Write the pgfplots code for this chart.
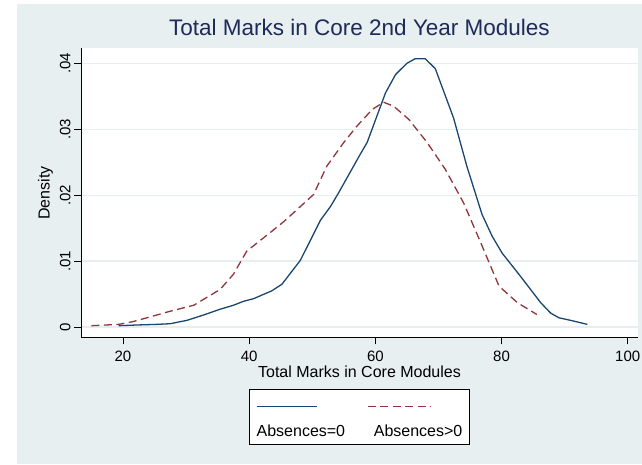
\documentclass[border=0pt]{standalone}
\usepackage{pgfplots}
\pgfplotsset{compat=1.18}
\usepackage{fontspec}
\setmainfont{Liberation Sans}
\definecolor{bgc}{RGB}{232,239,241}
\definecolor{gridc}{RGB}{230,238,240}
\definecolor{titlec}{RGB}{30,42,88}
\definecolor{navyc}{RGB}{26,71,111}
\definecolor{maroonc}{RGB}{144,53,59}
\pgfplotsset{redleg/.style={legend image code/.code={\draw[##1, overlay] (-6pt,10pt) -- (57pt,10pt);}}}
\begin{document}
\begin{tikzpicture}
\useasboundingbox (0,0) rectangle (642pt,464pt);
\fill[bgc] (17pt,0pt) rectangle (642pt,460pt);
\begin{axis}[
  at={(81pt,126.7pt)}, anchor=south west,
  scale only axis, width=557pt, height=288.8pt,
  xmin=13.343, xmax=101.63, ymin=-0.00156, ymax=0.04225,
  axis background/.style={fill=white},
  axis lines=left, axis line style={-, black, line width=0.9pt},
  tick align=outside, major tick length=7pt,
  tick style={black, line width=0.8pt},
  xtick={20,40,60,80,100},
  ytick={0,0.01,0.02,0.03,0.04},
  yticklabels={0,.01,.02,.03,.04},
  scaled y ticks=false,
  /pgf/number format/assume math mode=true,
  ticklabel style={font=\fontsize{15}{18}\selectfont},
  xticklabel style={yshift=-3pt},
  yticklabel style={rotate=90, anchor=south},
  ymajorgrids, grid style={gridc, line width=1.3pt},
  xlabel={Total Marks in Core Modules},
  ylabel={Density},
  label style={font=\fontsize{16}{19}\selectfont},
  xlabel style={yshift=2pt},
  title={Total Marks in Core 2nd Year Modules},
  title style={at={(0.5,1)}, anchor=base, yshift=7pt, text=titlec, font=\fontsize{22.5}{27}\selectfont},
  legend columns=2,
  legend image code/.code={\draw[#1, overlay] (0pt,10pt) -- (60pt,10pt);},
  legend style={at={(0.5,-0.1792)}, anchor=north, draw=black, line width=0.9pt, fill=white,
    inner xsep=7pt, inner ysep=0pt,
    font=\fontsize{16}{19}\selectfont,
    nodes={inner sep=0pt, text depth=8pt},
    /tikz/every even column/.append style={column sep=28.7pt}},
]
\addplot[navyc, line width=1.3pt] coordinates {
(19.3,0.0002) (22,0.0003) (25.3,0.0004) (27.5,0.0005) (29,0.0008) (30.1,0.001)
(32.7,0.0018) (35.4,0.0027) (37.5,0.0033) (39.1,0.0039) (40.7,0.0043) (43.6,0.0055)
(45.2,0.0065) (48.1,0.0101) (51.3,0.0162) (52.9,0.0183) (54.2,0.0204) (57.6,0.0262)
(58.7,0.0280) (61.6,0.0355) (63.2,0.0383) (65.0,0.0400) (66.3,0.0407) (67.9,0.0407)
(69.5,0.0392) (72.4,0.0317) (74.5,0.0244) (76.9,0.0171) (78.5,0.0138) (80.1,0.0112)
(83.0,0.0077) (86.2,0.0037) (87.8,0.0021) (89.1,0.0014) (91.0,0.0010) (93.6,0.0004)
};
\addlegendentry{\rule{0pt}{46.5pt}Absences=0}
\addplot[maroonc, line width=1.3pt, dash pattern=on 8pt off 4.5pt, redleg] coordinates {
(15.0,0.0002) (19.3,0.0004) (21.5,0.0008) (23.8,0.0014) (27.5,0.0024) (31.2,0.0033)
(35.4,0.0057) (37.5,0.0080) (39.6,0.0115) (43.3,0.0143) (45.5,0.0160) (47.0,0.0173)
(50.2,0.0201) (52.3,0.0244) (55.0,0.0280) (57.1,0.0305) (59.5,0.0330) (61.3,0.0341)
(62.9,0.0335) (65.3,0.0315) (68.2,0.0280) (71.1,0.0239) (74.0,0.0188) (76.7,0.0128)
(79.6,0.0062) (82.5,0.0037) (85.6,0.0019)
};
\addlegendentry{\rule{0pt}{46.5pt}Absences>0}
\end{axis}
\end{tikzpicture}
\end{document}
